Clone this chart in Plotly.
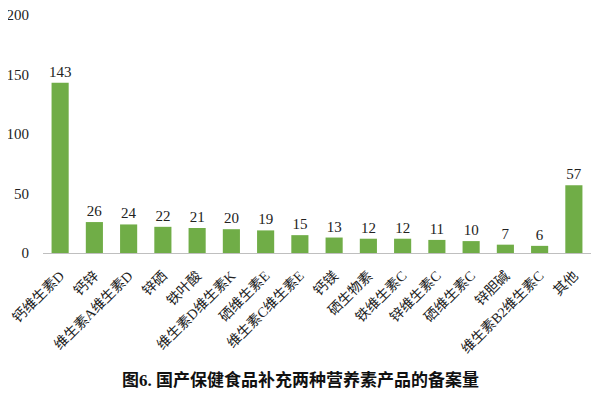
import plotly.graph_objects as go

# 备案量数据
categories = ["钙维生素D", "钙锌", "维生素A维生素D", "锌硒", "铁叶酸", "维生素D维生素K",
              "硒维生素E", "维生素C维生素E", "钙镁", "硒生物素", "铁维生素C", "锌维生素C",
              "硒维生素C", "锌胆碱", "维生素B2维生素C", "其他"]
counts = [143, 26, 24, 22, 21, 20, 19, 15, 13, 12, 12, 11, 10, 7, 6, 57]
y_ticks = [0, 50, 100, 150, 200]

font_family = "Liberation Serif, Times New Roman, Noto Sans CJK SC, serif"

fig = go.Figure()

fig.add_trace(go.Bar(
    x=categories,
    y=counts,
    marker={"color": "#70AD47", "line": {"width": 0}},
    width=0.5,
    text=counts,
    textposition="outside",
    constraintext="none",
    textfont={"size": 15, "color": "#222222", "family": font_family},
    cliponaxis=False,
))

fig.add_annotation(
    text="<b>图6. 国产保健食品补充两种营养素产品的备案量</b>",
    xref="paper", yref="paper",
    x=0.469, y=0, yshift=-127,
    xanchor="center", yanchor="middle",
    showarrow=False,
    font={"size": 17, "color": "#111111", "family": font_family},
)

# the page body has an 8px margin, so the figure is a bit smaller than the window
fig.update_layout(
    width=592,
    height=392,
    margin={"l": 35, "r": 9, "t": 7, "b": 147, "autoexpand": False},
    plot_bgcolor="white",
    paper_bgcolor="white",
    showlegend=False,
    font={"family": font_family, "color": "#222222"},
    xaxis={
        "tickangle": -45,
        "tickfont": {"size": 14},
        "showline": True,
        "linecolor": "#BFBFBF",
        "linewidth": 1,
        "showgrid": False,
        "ticks": "outside",
        "ticklen": 8,
        "tickcolor": "rgba(0,0,0,0)",
        "automargin": False,
        "ticklabeloverflow": "allow",
    },
    yaxis={
        "range": [0, 200],
        "tickvals": y_ticks,
        "tickfont": {"size": 15},
        "showgrid": False,
        "zeroline": False,
        "showline": False,
        "ticks": "outside",
        "ticklen": 10,
        "tickcolor": "rgba(0,0,0,0)",
        "automargin": False,
        "ticklabeloverflow": "allow",
    },
)

fig.write_html("out.html")
